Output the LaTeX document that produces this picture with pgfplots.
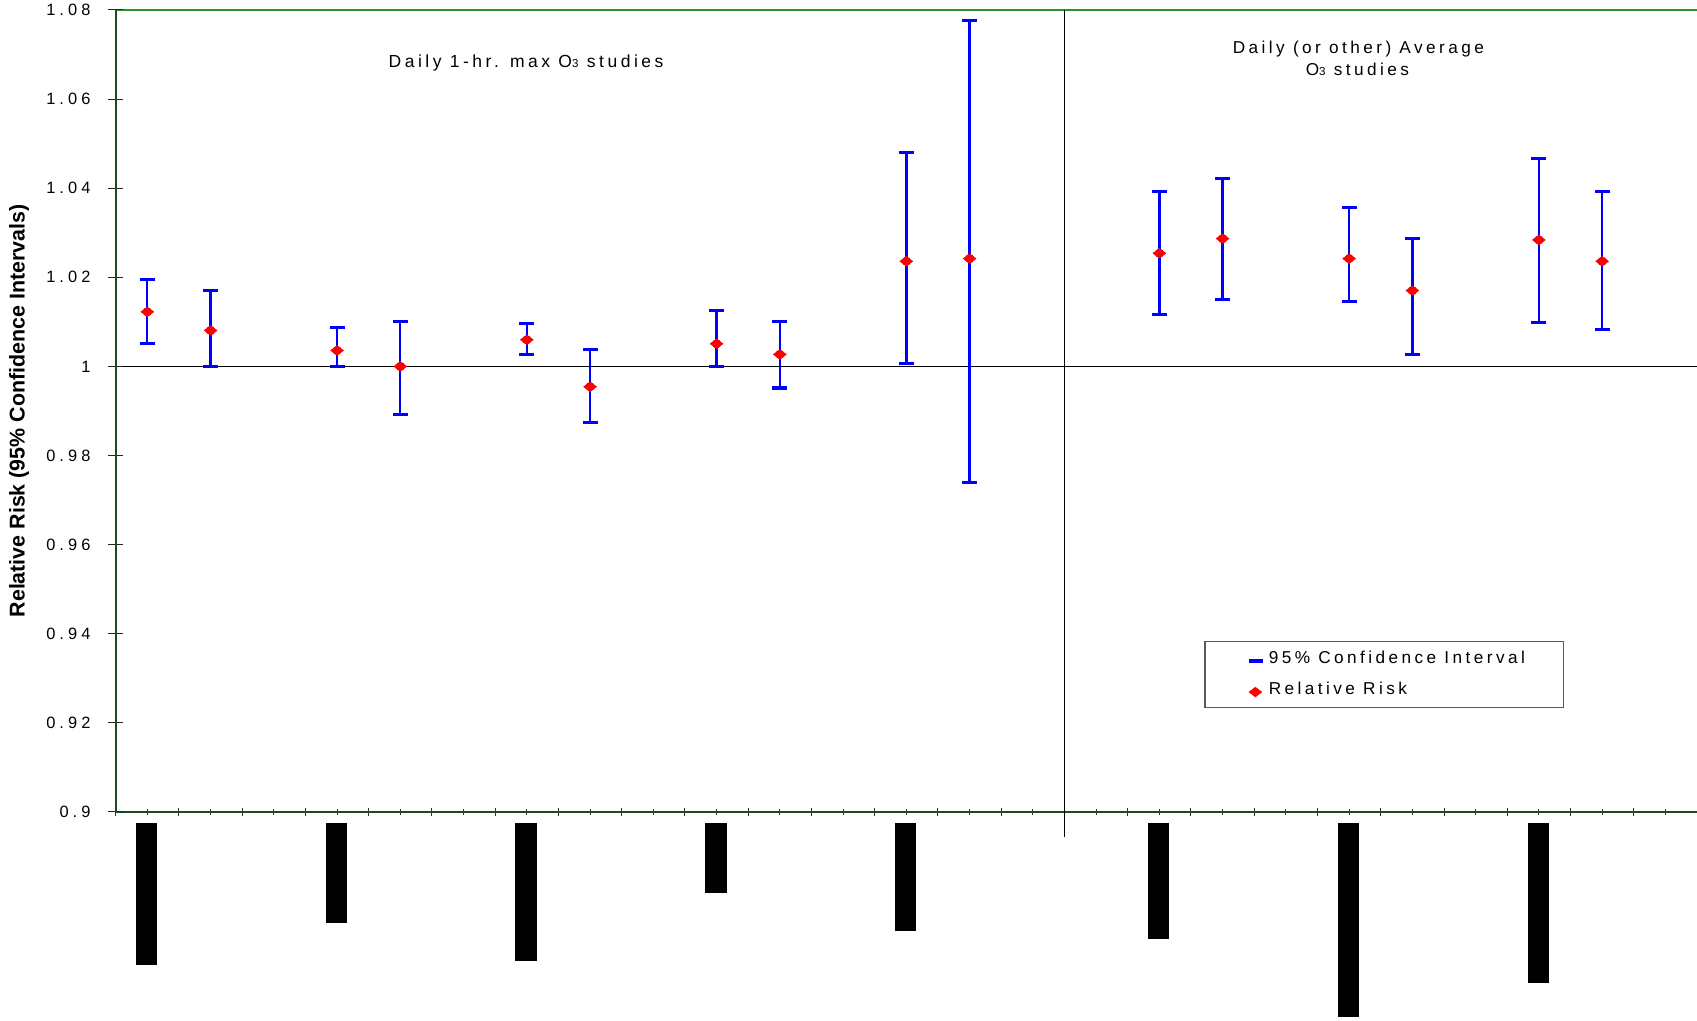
\documentclass[border=0pt]{standalone}
\usepackage{fontspec}
\setmainfont{Liberation Sans}
\newfontfamily\xl[LetterSpace=20]{Liberation Sans}
\newfontfamily\xlnum[LetterSpace=25]{Liberation Sans}
\usepackage{pgfplots}
\pgfplotsset{compat=1.18}
\usepackage{pgfplotstable}

\definecolor{ciblue}{RGB}{0,0,255}
\definecolor{rrred}{RGB}{255,0,0}
\definecolor{topgreen}{RGB}{40,150,40}
\definecolor{axgreen}{RGB}{30,75,30}

% relative risk with lower / upper 95% confidence limits
\pgfplotstableread{
x    rr      lo      hi
0.5  1.01225 1.00515 1.01950
1.5  1.00807 1.00000 1.01703
3.5  1.00359 1.00000 1.00866
4.5  1.00000 0.98917 1.01016
6.5  1.00598 1.00269 1.00956
7.5  0.99545 0.98738 1.00389
9.5  1.00508 1.00000 1.01255
10.5 1.00269 0.99514 1.01016
12.5 1.02360 1.00060 1.04796
13.5 1.02420 0.97393 1.07760
16.5 1.02540 1.01165 1.03922
17.5 1.02868 1.01494 1.04220
19.5 1.02420 1.01464 1.03563
20.5 1.01703 1.00269 1.02868
22.5 1.02839 1.00986 1.04660
23.5 1.02360 1.00836 1.03922
}\rrdata

\newcommand{\xlfont}{\xl\fontsize{8.6}{10.3}\selectfont}
\newcommand{\sub}[1]{{\fontsize{5.8}{6}\selectfont #1}}
% blacked-out study label under the axis: left x, right x, bottom y
\newcommand{\labelbox}[3]{%
  \addplot[fill=black, draw=none, forget plot]
    coordinates {(#1,0.89742) (#2,0.89742) (#2,#3) (#1,#3)} -- cycle;}

\begin{document}
\begin{tikzpicture}
% main axis: data, x ticks, legend
\begin{axis}[
  scale only axis, width=790.65pt, height=401pt,
  xmin=0, xmax=25, ymin=0.9, ymax=1.08,
  clip=false,
  axis x line*=bottom, axis y line=none,
  x axis line style={draw=axgreen, line width=1pt},
  xtick={0,1,...,25}, minor xtick={0.5,1.5,...,24.5}, xticklabels={},
  tick align=center, major tick length=4pt, minor tick length=2.7pt,
  xtick style={black!80, line width=0.5pt},
  ytick=\empty,
  legend style={at={(axis cs:17.882,0.93652)}, anchor=north west,
    draw=none, fill=none, inner sep=0pt, row sep=5.35pt,
    cells={anchor=base west}, nodes={inner sep=0pt}, font=\xlfont},
]
\draw[topgreen, line width=1pt] (axis cs:0,1.08) -- (axis cs:25,1.08);
\draw[black, line width=0.6pt] (axis cs:0,1) -- (axis cs:25,1);
\draw[black, line width=0.7pt] (axis cs:15,1.08) -- (axis cs:15,0.89432);
\draw[black!65, line width=0.6pt] (axis cs:17.222,0.93823) rectangle (axis cs:22.887,0.92350);

\labelbox{0.32}{0.66}{0.86572}
\labelbox{3.32}{3.66}{0.87515}
\labelbox{6.32}{6.66}{0.86662}
\labelbox{9.32}{9.66}{0.88182}
\labelbox{12.32}{12.66}{0.87329}
\labelbox{16.32}{16.66}{0.87156}
\labelbox{19.32}{19.66}{0.85405}
\labelbox{22.32}{22.66}{0.86168}

\addplot[only marks, mark=none,
  legend image code/.code={\path[draw=none, fill=none] (0pt,-3pt) rectangle (10pt,7pt);
    \draw[ciblue, line width=1.6pt] (0pt,1.3pt) -- (7.15pt,1.3pt);},
  error bars/.cd, y dir=both, y explicit,
  error bar style={ciblue, line width=1.15pt},
  error mark=|, error mark options={ciblue, line width=1.6pt, mark size=3.75pt}]
  table[x=x, y=rr, y error plus expr=\thisrow{hi}-\thisrow{rr},
        y error minus expr=\thisrow{rr}-\thisrow{lo}] {\rrdata};
\addlegendentry{95\% Confidence Interval}

\addplot[only marks, mark=diamond*, mark size=3.25pt,
  mark options={rotate=90, draw=rrred, fill=rrred, line width=0.2pt},
  legend image code/.code={\path[draw=none, fill=none] (0pt,-3pt) rectangle (10pt,7pt);
    \path[draw=rrred, fill=rrred] plot[only marks, mark=diamond*, mark size=3.25pt,
      mark options={rotate=90, line width=0.2pt}] coordinates {(3.3pt,1.15pt)};}]
  table[x=x, y=rr] {\rrdata};
\addlegendentry{Relative Risk}

\node[anchor=base, font=\xl\fontsize{8.75}{10.5}\selectfont] at (axis cs:6.487,1.06705)
  {Daily 1-hr. max O\sub{3} studies};
\node[anchor=base, font=\xlfont] at (axis cs:19.646,1.07028)
  {Daily (or other) Average};
\node[anchor=base, font=\xlfont] at (axis cs:19.63,1.06519)
  {O\sub{3} studies};
\end{axis}

% y axis with its ticks, numbers and label
\begin{axis}[
  scale only axis, width=790.65pt, height=401pt,
  xmin=0, xmax=25, ymin=0.9, ymax=1.08,
  axis x line=none, axis y line*=left,
  y axis line style={draw=axgreen, line width=1pt},
  xtick=\empty,
  ytick={0.9,0.92,0.94,0.96,0.98,1,1.02,1.04,1.06,1.08},
  yticklabels={0.9,0.92,0.94,0.96,0.98,1,1.02,1.04,1.06,1.08},
  tick align=center, major tick length=7.5pt,
  ytick style={black!85, line width=0.5pt},
  yticklabel style={font=\xlnum\fontsize{8.2}{9.8}\selectfont, anchor=east,
    inner sep=0pt, xshift=-8.65pt},
  ylabel={Relative Risk (95\% Confidence Intervals)},
  ylabel style={at={(axis description cs:-0.06115,0.5)}, anchor=center,
    font=\bfseries\fontsize{10.7}{12}\selectfont},
]
\end{axis}

\pgfresetboundingbox
\path[use as bounding box] (-57.85pt,-104.5pt) rectangle (790.65pt,406pt);
\end{tikzpicture}
\end{document}
